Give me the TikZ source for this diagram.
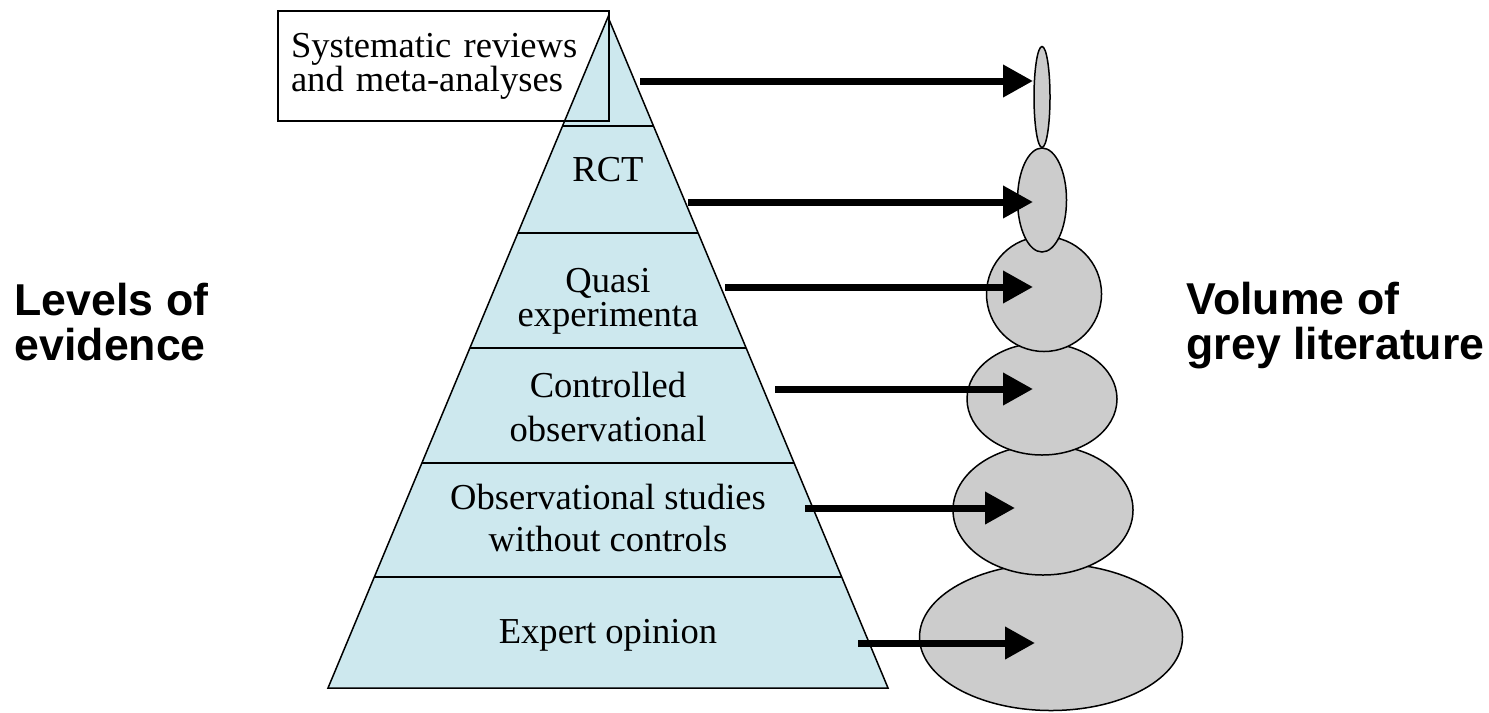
\documentclass[tikz,border=0pt]{standalone}
\usepackage{fontspec}
\setmainfont{Liberation Serif}
\setsansfont{Liberation Sans}
\usepackage{tikz}
\usetikzlibrary{positioning}
\usetikzlibrary{shapes}
\usetikzlibrary{calc}
\usetikzlibrary{arrows.meta}
\usepackage{xcolor}
\definecolor{tierblue}{RGB}{205,232,238}
\definecolor{pebble}{RGB}{204,204,204}

\begin{document}
\begin{tikzpicture}[x=0.1mm, y=-0.1mm,
        lvl/.style={align=center, inner sep=0, font=\fontsize{10.4}{9.7}\selectfont},
        side/.style={align=left, inner sep=0, anchor=north west, font=\sffamily\bfseries\fontsize{12.7}{12.8}\selectfont},
        e/.style={ellipse, draw, fill=pebble, line width=0.15mm, inner sep=0},
        arr/.style={line width=0.7mm, -{Triangle[length=3mm, width=3.1mm]}}]
            \useasboundingbox (0,0) rectangle (1489,712);

            % pyramid
            \coordinate (top) at (608, 17);
            \coordinate (bl) at (328, 688);
            \coordinate (br) at (888, 688);
            \draw[fill=tierblue, line width=0.15mm] (top) -- (br) -- (bl) -- cycle;
            \draw[line width=0.15mm] ($(top)!0.1624!(bl)$) -- ($(top)!0.1624!(br)$);
            \draw[line width=0.15mm] ($(top)!0.3219!(bl)$) -- ($(top)!0.3219!(br)$);
            \draw[line width=0.15mm] ($(top)!0.4933!(bl)$) -- ($(top)!0.4933!(br)$);
            \draw[line width=0.15mm] ($(top)!0.6647!(bl)$) -- ($(top)!0.6647!(br)$);
            \draw[line width=0.15mm] ($(top)!0.8346!(bl)$) -- ($(top)!0.8346!(br)$);

            \node[lvl, draw, line width=0.2mm, anchor=north west, minimum width=33.1mm, minimum height=11mm,
                text width=30.5mm, align=left, inner xsep=1.3mm] (sr) at (277, 10) {Systematic reviews\\and meta-analyses};
            \node[lvl] (rct) at (608, 170) {RCT};
            \node[lvl] (qe) at (608, 301) {Quasi\\experimenta};
            \node[lvl] (co) at (608, 407) {Controlled\\[2.8pt]observational};
            \node[lvl] (os) at (608, 518) {Observational studies\\[2.3pt]without controls};
            \node[lvl] (ex) at (608, 635) {Expert opinion};

            % grey literature
            \node[e, minimum width=26.3mm, minimum height=14.7mm] (e6) at (1051, 637) {};
            \node[e, minimum width=18mm, minimum height=13mm] (e5) at (1043, 510) {};
            \node[e, minimum width=15mm, minimum height=11.2mm] (e4) at (1042, 399) {};
            \node[e, minimum width=11.5mm, minimum height=11.5mm] (e3) at (1044, 294) {};
            \node[e, minimum width=4.9mm, minimum height=10.4mm] (e2) at (1042, 200) {};
            \node[e, minimum width=1.6mm, minimum height=10.1mm] (e1) at (1042, 97) {};

            \coordinate (s1) at (640, 81);
            \coordinate (t1) at (1033, 81);
            \coordinate (s2) at (688, 202);
            \coordinate (t2) at (1033, 202);
            \coordinate (s3) at (725, 287);
            \coordinate (t3) at (1033, 287);
            \coordinate (s4) at (775, 389);
            \coordinate (t4) at (1033, 389);
            \coordinate (s5) at (805, 508);
            \coordinate (t5) at (1015, 508);
            \coordinate (s6) at (858, 643);
            \coordinate (t6) at (1035, 643);

            \draw[arr] (s1) -- (t1);
            \draw[arr] (s2) -- (t2);
            \draw[arr] (s3) -- (t3);
            \draw[arr] (s4) -- (t4);
            \draw[arr] (s5) -- (t5);
            \draw[arr] (s6) -- (t6);

            \node[side] (lev) at (14, 282) {Levels of\\evidence};
            \node[side] (vol) at (1186, 281) {Volume of\\grey literature};
        \end{tikzpicture}
\end{document}
